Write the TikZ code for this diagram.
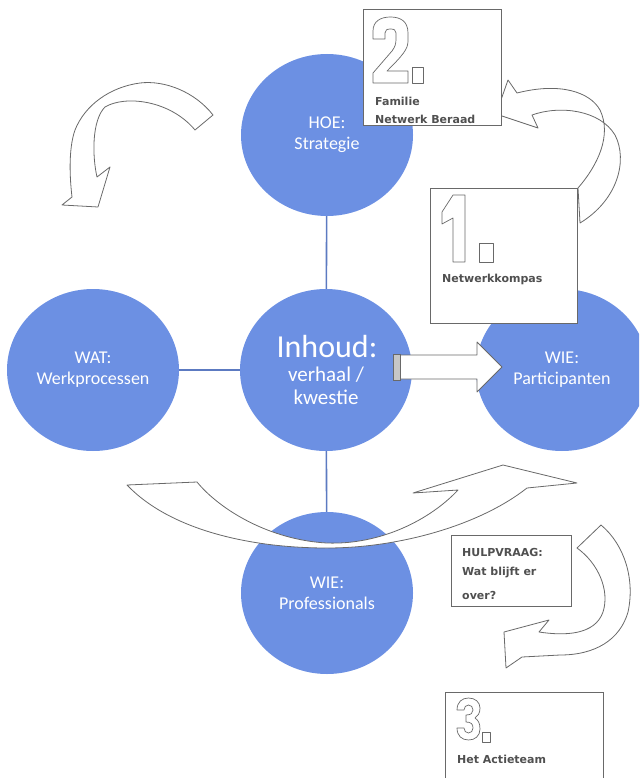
\documentclass[tikz,border=0pt]{standalone}
\usepackage{fontspec}
\setmainfont{Carlito}
\newfontfamily\boxfont{DejaVu Sans}
\usetikzlibrary{shapes.geometric}
\definecolor{bubblue}{RGB}{108,144,227}
\definecolor{linegray}{RGB}{105,105,105}
\definecolor{txtgray}{RGB}{80,80,80}
\begin{document}
\begin{tikzpicture}[x=1pt,y=-1pt,
  bub/.style={ellipse, fill=bubblue, minimum width=172pt, minimum height=162pt, inner sep=0pt, text=white, align=center, font=\fontsize{18}{21}\selectfont},
  bubtext/.style={inner sep=0pt, text=white},
  conn/.style={draw=bubblue!85!black, line width=1.6pt},
  blockarrow/.style={draw=linegray, fill=white, line width=0.8pt, line join=round},
  infobox/.style={draw=linegray, fill=white, line width=0.8pt, rectangle, inner sep=0pt, anchor=north west},
  boxtext/.style={anchor=west, inner sep=0pt, text=txtgray, font=\boxfont\bfseries\fontsize{11}{13}\selectfont},
  digit/.style={draw=linegray, line width=0.7pt, fill=white, line join=round}
]
\useasboundingbox (0,0) rectangle (639,778);
\clip (0,0) rectangle (639,778);

% circles
\node[bub] (hoe)  at (327,135) {HOE:\\Strategie};
\node[bub] (wat)  at (93,370)  {WAT:\\Werkprocessen};
\node[bub] (inh)  at (326,370) {};
\node[bub] (part) at (562,370) {WIE:\\Participanten};
\node[bub] (prof) at (327,593) {WIE:\\Professionals};
\node[bubtext, font=\fontsize{32}{32}\selectfont] (inh1) at (327,347) {Inhoud:};
\node[bubtext, font=\fontsize{21}{24}\selectfont] (inh2) at (326,375) {verhaal /};
\node[bubtext, font=\fontsize{21}{24}\selectfont] (inh3) at (326,397) {kwestie};

% connectors
\draw[conn] (hoe) -- (inh);
\draw[conn] (wat) -- (inh);
\draw[conn] (inh) -- (prof);

% big curved arrow across the bottom circle
\draw[blockarrow] (127,485) -- (197,482)
  .. controls (220,510) and (270,540) .. (327,543)
  .. controls (380,545) and (430,520) .. (458,490)
  -- (413,493) -- (503,465) -- (577,483) -- (527,488)
  .. controls (480,525) and (400,548) .. (327,548)
  .. controls (250,548) and (170,530) .. (127,485) -- cycle;

% straight arrow Inhoud -> Participanten
\draw[blockarrow] (400,355) -- (477,355) -- (477,342) -- (502,367) -- (477,392) -- (477,379) -- (400,379) -- cycle;
\draw[draw=linegray, fill=gray!45, line width=0.8pt] (393,354) rectangle (400,380);

% curved arrow from box 1 to box 2
\draw[blockarrow] (578,188)
  .. controls (598,165) and (612,135) .. (600,110)
  .. controls (590,92) and (560,82) .. (517,93)
  -- (508,80) -- (496,114) -- (538,128) -- (532,115)
  .. controls (560,105) and (600,110) .. (615,135)
  .. controls (628,160) and (618,200) .. (580,223) -- cycle;

% box 2
\node[infobox, minimum width=138pt, minimum height=116pt] (fnb) at (363,9) {};
\begin{scope}[shift={(373,17)}]
\draw[digit] (0,22) -- (0,14) .. controls (0,4) and (8,0) .. (17.5,0)
  .. controls (27,0) and (35,4) .. (35,16) -- (35,24)
  .. controls (35,32) and (30,38) .. (14,54) -- (35,54) -- (35,66) -- (0,66) -- (0,56)
  -- (19,34) .. controls (22,30) and (23,27) .. (23,22) -- (23,16)
  .. controls (23,13) and (21,12) .. (17.5,12) .. controls (14,12) and (12,13) .. (12,16)
  -- (12,22) -- cycle;
\end{scope}
\draw[digit] (412,67) rectangle (423,83);
\node[boxtext] (fnb1) at (375,101) {Familie};
\node[boxtext] (fnb2) at (375,119) {Netwerk Beraad};

% box 1
\node[infobox, minimum width=147pt, minimum height=135pt] (nk) at (430,188) {};
\draw[digit] (442,212) -- (453,195) -- (465,195) -- (465,262) -- (453,262) -- (453,218) -- (442,224) -- cycle;
\draw[digit] (479,243) rectangle (493,262);
\node[boxtext] (nk1) at (442,279) {Netwerkkompas};

% curved arrow top left
\draw[blockarrow] (213,115)
  .. controls (195,92) and (165,80) .. (140,83)
  .. controls (110,87) and (85,105) .. (75,130)
  .. controls (68,150) and (70,180) .. (72,197)
  -- (62,205) -- (98,207) -- (110,167) -- (97,177)
  .. controls (92,155) and (92,120) .. (105,107)
  .. controls (125,95) and (170,100) .. (195,130) -- cycle;

% curved arrow bottom right
\draw[blockarrow] (577,548) -- (601,525)
  .. controls (625,545) and (635,580) .. (628,612)
  .. controls (620,640) and (595,655) .. (560,655)
  -- (522,657) -- (506,668) -- (504,632) -- (549,620) -- (539,632)
  .. controls (565,636) and (595,635) .. (603,612)
  .. controls (610,590) and (598,563) .. (577,548) -- cycle;

% hulpvraag box
\node[infobox, minimum width=120pt, minimum height=71pt] (hv) at (451,535) {};
\node[boxtext] (hv1) at (462,552) {HULPVRAAG:};
\node[boxtext] (hv2) at (462,573) {Wat blijft er};
\node[boxtext] (hv3) at (462,595) {over?};

% box 3
\node[infobox, minimum width=158pt, minimum height=110pt] (at) at (445,692) {};
\begin{scope}[shift={(457,698)}]
\draw[digit] (0,12) .. controls (0,4) and (5,0) .. (11.5,0)
  .. controls (18,0) and (23,4) .. (23,10) .. controls (23,15) and (21,18) .. (18,20)
  .. controls (21,22) and (23,25) .. (23,31) .. controls (23,38) and (18,42) .. (11.5,42)
  .. controls (5,42) and (0,38) .. (0,30) -- (7,30)
  .. controls (7,33) and (9,35) .. (11.5,35) .. controls (14,35) and (16,33) .. (16,30)
  .. controls (16,26) and (14,24) .. (9,24) -- (9,17)
  .. controls (14,17) and (16,15) .. (16,12) .. controls (16,9) and (14,7) .. (11.5,7)
  .. controls (9,7) and (7,9) .. (7,12) -- cycle;
\end{scope}
\draw[digit] (482,732) rectangle (490,742);
\node[boxtext] (at1) at (457,759) {Het Actieteam};
\end{tikzpicture}
\end{document}
